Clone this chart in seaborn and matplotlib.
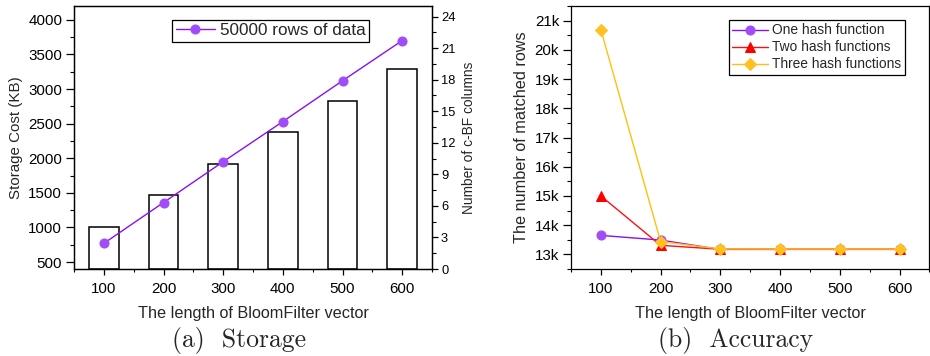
import numpy as np
import pandas as pd
import matplotlib
matplotlib.use("Agg")
import matplotlib.pyplot as plt
from matplotlib.ticker import MultipleLocator, FixedLocator, FixedFormatter
import seaborn as sns

# ---------------- data ----------------
bf_length = [100, 200, 300, 400, 500, 600]
storage_kb = [770, 1360, 1950, 2530, 3120, 3700]          # line, left axis
cbf_columns = [4, 7, 10, 13, 16, 19]                       # bars, right axis
storage_label = "50000 rows of data"

one_hash = [13650, 13490, 13170, 13170, 13170, 13170]
two_hash = [15000, 13310, 13175, 13175, 13175, 13175]
three_hash = [20690, 13440, 13185, 13180, 13180, 13180]
series_names = ["One hash function", "Two hash functions", "Three hash functions"]

acc_yticks = [13000, 14000, 15000, 16000, 17000, 18000, 19000, 20000, 21000]
acc_yticklabels = ["13k", "14k", "15k", "16k", "17k", "18k", "19k", "20k", "21k"]
captions = ["(a)  Storage", "(b)  Accuracy"]

# ---------------- style ----------------
sns.set_theme(style="ticks")
plt.rcParams["font.family"] = ["Liberation Sans", "DejaVu Sans"]
plt.rcParams.update({
    "axes.linewidth": 0.9,
    "xtick.direction": "out", "ytick.direction": "out",
    "xtick.major.size": 4.5, "ytick.major.size": 5.5,
    "xtick.minor.size": 2.5, "ytick.minor.size": 3,
    "xtick.major.width": 0.9, "ytick.major.width": 0.9,
    "xtick.minor.width": 0.8, "ytick.minor.width": 0.8,
    "xtick.color": "black", "ytick.color": "black",
    "axes.edgecolor": "black",
})

W, H = 930, 356
fig = plt.figure(figsize=(W / 100, H / 100), dpi=100)

def rect(x0, x1, ytop, ybot):
    return [x0 / W, 1 - ybot / H, (x1 - x0) / W, (ybot - ytop) / H]

purple_line = "#8A10F0"
purple_mark = "#A04CF8"

# ---------------- left panel ----------------
ax = fig.add_axes(rect(74, 432, 6, 269))
ax2 = ax.twinx()
sns.barplot(x=bf_length, y=cbf_columns, native_scale=True, width=0.5,
            color="white", edgecolor="black", linewidth=1.1, ax=ax2, errorbar=None)
for p in ax2.patches:
    p.set_facecolor("white")
sns.lineplot(x=bf_length, y=storage_kb, ax=ax, color=purple_line, linewidth=1.0,
             marker="o", markersize=6.5, markerfacecolor=purple_mark,
             markeredgecolor=purple_mark, label=storage_label)
ax.set_zorder(ax2.get_zorder() + 1)
ax.patch.set_visible(False)

ax.set_xlim(50, 650)
ax.set_ylim(400, 4200)
ax2.set_ylim(0, 25)
ax.xaxis.set_major_locator(FixedLocator(bf_length))
ax.xaxis.set_minor_locator(MultipleLocator(50))
ax.set_yticks([500, 1000, 1500, 2000, 2500, 3000, 3500, 4000])
ax.yaxis.set_minor_locator(MultipleLocator(250))
ax2.yaxis.set_major_locator(MultipleLocator(3))
ax2.yaxis.set_minor_locator(MultipleLocator(1.5))
ax.tick_params(axis="both", labelsize=10.9, pad=3)
ax.tick_params(axis="x", pad=5)
ax2.tick_params(axis="y", labelsize=9.3, pad=2, length=4.5)
ax.set_xlabel("The length of BloomFilter vector", fontsize=11.7, labelpad=7)
ax.set_ylabel("Storage Cost (KB)", fontsize=10.9, labelpad=4)
ax2.set_ylabel("Number of c-BF columns", fontsize=9.9, labelpad=5)
for s in ax2.spines.values():
    s.set_visible(True)
leg = ax.legend(loc="upper left", bbox_to_anchor=(0.274, 0.947), borderaxespad=0,
                fontsize=12.3, frameon=True, fancybox=False, framealpha=1,
                edgecolor="black", handlelength=2.3, handletextpad=0.3,
                borderpad=0.2)
leg.get_frame().set_linewidth(0.9)

# ---------------- right panel ----------------
bx = fig.add_axes(rect(571, 929.4, 6, 269))
df = pd.DataFrame({
    "len": bf_length * 3,
    "rows": one_hash + two_hash + three_hash,
    "series": [series_names[0]] * 6 + [series_names[1]] * 6 + [series_names[2]] * 6,
})
colors_line = ["#8A10F0", "#FF1010", "#FFC010"]
colors_mark = ["#A04CF8", "#FF0000", "#FFC020"]
markers = ["o", "^", "D"]
msizes = [6.5, 6.5, 6.5]
for name, cl, cm, mk, ms in zip(series_names, colors_line, colors_mark, markers, msizes):
    sub = df[df["series"] == name]
    sns.lineplot(data=sub, x="len", y="rows", ax=bx, color=cl, linewidth=1.0,
                 marker=mk, markersize=ms, markerfacecolor=cm, markeredgecolor=cm,
                 label=name)
bx.set_xlim(50, 650)
bx.set_ylim(12500, 21500)
bx.xaxis.set_major_locator(FixedLocator(bf_length))
bx.xaxis.set_minor_locator(MultipleLocator(50))
bx.yaxis.set_major_locator(FixedLocator(acc_yticks))
bx.yaxis.set_major_formatter(FixedFormatter(acc_yticklabels))
bx.yaxis.set_minor_locator(MultipleLocator(500))
bx.tick_params(axis="both", labelsize=10.9, pad=3)
bx.tick_params(axis="x", pad=5)
bx.set_xlabel("The length of BloomFilter vector", fontsize=11.7, labelpad=7)
bx.set_ylabel("The number of matched rows", fontsize=11.7, labelpad=4)
leg2 = bx.legend(loc="upper left", bbox_to_anchor=(0.441, 0.947), borderaxespad=0,
                 fontsize=9.9, frameon=True, fancybox=False, framealpha=1,
                 edgecolor="black", handlelength=2.6, handletextpad=0.3,
                 labelspacing=0.22, borderpad=0.25)
leg2.get_frame().set_linewidth(0.9)

# ---------------- captions ----------------
fig.text(238.7 / W, 1 - 340 / H, captions[0], ha="center", va="center",
         fontsize=18.5, family="cmr10")
fig.text(736 / W, 1 - 340 / H, captions[1], ha="center", va="center",
         fontsize=18.5, family="cmr10")

fig.savefig("out.png", dpi=100)
